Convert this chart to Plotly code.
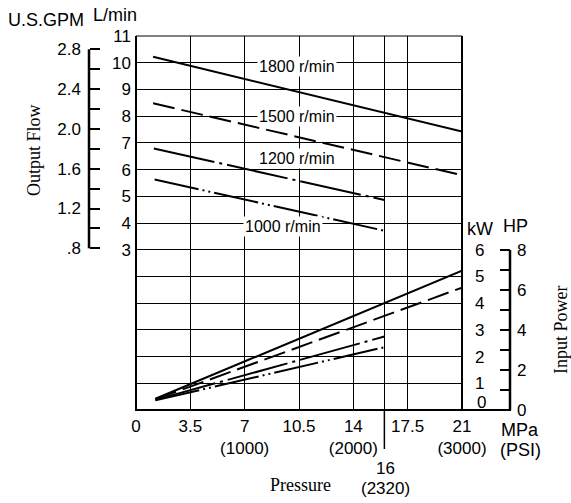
import plotly.graph_objects as go

W, H = 571, 503

# ---------------- data ----------------
pressure_ticks = [0, 3.5, 7, 10.5, 14, 16, 17.5, 21]
pressure_ticktext = ["0", "3.5", "7<br>(1000)", "10.5", "14<br>(2000)", "", "17.5", "21<br>(3000)"]

flow_ticks = list(range(-3, 12))
flow_ticktext = [str(v) if v >= 3 else "" for v in flow_ticks]

gpm_ticks = [0.8, 1.0, 1.2, 1.4, 1.6, 1.8, 2.0, 2.2, 2.4, 2.6, 2.8]
gpm_ticktext = [".8", "", "1.2", "", "1.6", "", "2.0", "", "2.4", "", "2.8"]

kw_ticks = [1, 2, 3, 4, 5, 6]
hp_ticks = [0, 1, 2, 3, 4, 5, 6, 7, 8]
hp_ticktext = ["0", "", "2", "", "4", "", "6", "", "8"]

speeds = ["1800 r/min", "1500 r/min", "1200 r/min", "1000 r/min"]

flow_p_1800 = [1.1, 21]
flow_q_1800 = [10.22, 7.42]
flow_p_1500 = [1.1, 21]
flow_q_1500 = [8.48, 5.79]
flow_p_1200 = [1.15, 16]
flow_q_1200 = [6.79, 4.86]
flow_p_1000 = [1.2, 16]
flow_q_1000 = [5.63, 3.71]

power_p_1800 = [1.25, 21]
power_kw_1800 = [0.42, 5.22]
power_p_1500 = [1.25, 21]
power_kw_1500 = [0.40, 4.58]
power_p_1200 = [1.25, 16]
power_kw_1200 = [0.38, 2.75]
power_p_1000 = [1.25, 16]
power_kw_1000 = [0.36, 2.35]

label_pos_p = [10.34, 10.34, 10.34, 9.45]
label_pos_q = [9.84, 7.97, 6.43, 3.88]

# ---------------- layout helpers ----------------
def px(x):
    return x / W

def py(y):
    return 1 - y / H

X0, X1 = px(136), px(462)
Y0, Y1 = py(410), py(36)

SANS = "Liberation Sans, Arial, sans-serif"
SERIF = "Liberation Serif, Times New Roman, serif"
FS = 17

dashes = ["solid", "22px,7px", "62px,5px,3px,5px", "45px,4px,2px,4px,2px,4px"]

fig = go.Figure()

flows = [(flow_p_1800, flow_q_1800), (flow_p_1500, flow_q_1500),
         (flow_p_1200, flow_q_1200), (flow_p_1000, flow_q_1000)]
powers = [(power_p_1800, power_kw_1800), (power_p_1500, power_kw_1500),
          (power_p_1200, power_kw_1200), (power_p_1000, power_kw_1000)]

for (p, q), d, name in zip(flows, dashes, speeds):
    fig.add_trace(go.Scatter(x=p, y=q, mode="lines", name=name,
                             line=dict(color="black", width=2, dash=d),
                             xaxis="x", yaxis="y", showlegend=False))
for (p, k), d, name in zip(powers, dashes, speeds):
    fig.add_trace(go.Scatter(x=p, y=k, mode="lines", name=name,
                             line=dict(color="black", width=2, dash=d),
                             xaxis="x", yaxis="y3", showlegend=False))

annotations = []
for name, xp, yq in zip(speeds, label_pos_p, label_pos_q):
    annotations.append(dict(x=xp, y=yq, xref="x", yref="y", text=name, showarrow=False,
                            bgcolor="white", borderpad=1,
                            font=dict(family=SANS, size=16, color="black")))

def txt(x, y, t, fam=SANS, size=FS, angle=0, xanchor="center"):
    annotations.append(dict(x=px(x), y=py(y), xref="paper", yref="paper", text=t,
                            showarrow=False, textangle=angle, xanchor=xanchor, yanchor="middle",
                            font=dict(family=fam, size=size, color="black")))

txt(46, 20, "U.S.GPM", size=18)
txt(115, 15, "L/min", size=18)
txt(480, 229, "kW", size=18)
txt(515, 226, "HP", size=18)
txt(520, 430, "MPa", size=18)
txt(520, 450, "(PSI)", size=18)
txt(385, 468, "16")
txt(385, 488, "(2320)")
txt(300, 485, "Pressure", fam=SERIF, size=18)
txt(34, 150, "Output Flow", fam=SERIF, size=18, angle=-90)
txt(561, 330, "Input Power", fam=SERIF, size=18, angle=-90)
# kW zero label sits slightly above the base line
annotations.append(dict(x=px(475), y=0, xref="paper", yref="y3", text="0", showarrow=False,
                        xanchor="left", yanchor="middle", yshift=8,
                        font=dict(family=SANS, size=FS, color="black")))

shapes = []
# plot frame
shapes.append(dict(type="line", xref="paper", yref="paper", x0=X0, x1=X0, y0=Y0, y1=Y1,
                   line=dict(color="black", width=2)))
shapes.append(dict(type="line", xref="paper", yref="paper", x0=X1, x1=X1, y0=Y0, y1=Y1,
                   line=dict(color="black", width=2)))
shapes.append(dict(type="line", xref="paper", yref="paper", x0=X0, x1=X1, y0=Y1, y1=Y1,
                   line=dict(color="black", width=1)))
shapes.append(dict(type="line", xref="paper", yref="paper", x0=X0 - px(1), x1=px(511), y0=Y0, y1=Y0,
                   line=dict(color="black", width=2)))
# 16 MPa line extension below the axis
x16 = X0 + 16 / 21 * (X1 - X0)
shapes.append(dict(type="line", xref="paper", yref="paper", x0=x16, x1=x16, y0=Y0, y1=py(449),
                   line=dict(color="black", width=1.5)))
# GPM axis line
shapes.append(dict(type="line", xref="paper", yref="y2", x0=px(89), x1=px(89), y0=0.8, y1=2.8,
                   line=dict(color="black", width=2.5)))
# HP axis line
shapes.append(dict(type="line", xref="paper", yref="y4", x0=px(510), x1=px(510), y0=0, y1=8,
                   line=dict(color="black", width=2.5)))

tickfont = dict(family=SANS, size=FS, color="black")

fig.update_layout(
    template="none",
    width=W, height=H,
    margin=dict(l=0, r=0, t=0, b=0, pad=0, autoexpand=False),
    paper_bgcolor="white", plot_bgcolor="white",
    showlegend=False,
    xaxis=dict(domain=[X0, X1], range=[0, 21], tickmode="array", tickvals=pressure_ticks,
               ticktext=pressure_ticktext, showgrid=True, gridcolor="black", gridwidth=1,
               zeroline=False, showline=False, ticks="", tickfont=tickfont,
               ticklabelstandoff=4, automargin=False),
    yaxis=dict(domain=[Y0, Y1], range=[-3, 11], tickmode="array", tickvals=flow_ticks,
               ticktext=flow_ticktext, showgrid=True, gridcolor="black", gridwidth=1,
               zeroline=False, showline=False, ticks="", tickfont=tickfont,
               ticklabelstandoff=4, automargin=False),
    yaxis2=dict(overlaying="y", anchor="free", position=px(89), side="left",
                range=[-0.825, 2.934], tickmode="array", tickvals=gpm_ticks, ticktext=gpm_ticktext,
                ticks="inside", ticklen=10, tickwidth=2, tickcolor="black",
                showgrid=False, zeroline=False, showline=False, tickfont=tickfont,
                ticklabelstandoff=8, automargin=False),
    yaxis3=dict(overlaying="y", anchor="x", side="right", range=[0, 14], tickmode="array",
                tickvals=kw_ticks, showgrid=False, zeroline=False, showline=False, ticks="",
                tickfont=tickfont, ticklabelstandoff=12, automargin=False),
    yaxis4=dict(overlaying="y", anchor="free", position=px(510), side="right",
                range=[0, 18.7], tickmode="array", tickvals=hp_ticks, ticktext=hp_ticktext,
                ticks="inside", ticklen=10, tickwidth=2, tickcolor="black",
                showgrid=False, zeroline=False, showline=False, tickfont=tickfont,
                ticklabelstandoff=6, automargin=False),
    annotations=annotations,
    shapes=shapes,
)

fig.write_html(
    "out.html",
    config={"displayModeBar": False},
    post_script=(
        "document.documentElement.style.margin='0';"
        "document.body.style.margin='0';"
        "document.body.style.padding='0';"
        "document.documentElement.style.overflow='hidden';"
        "document.body.style.overflow='hidden';"
    ),
)
